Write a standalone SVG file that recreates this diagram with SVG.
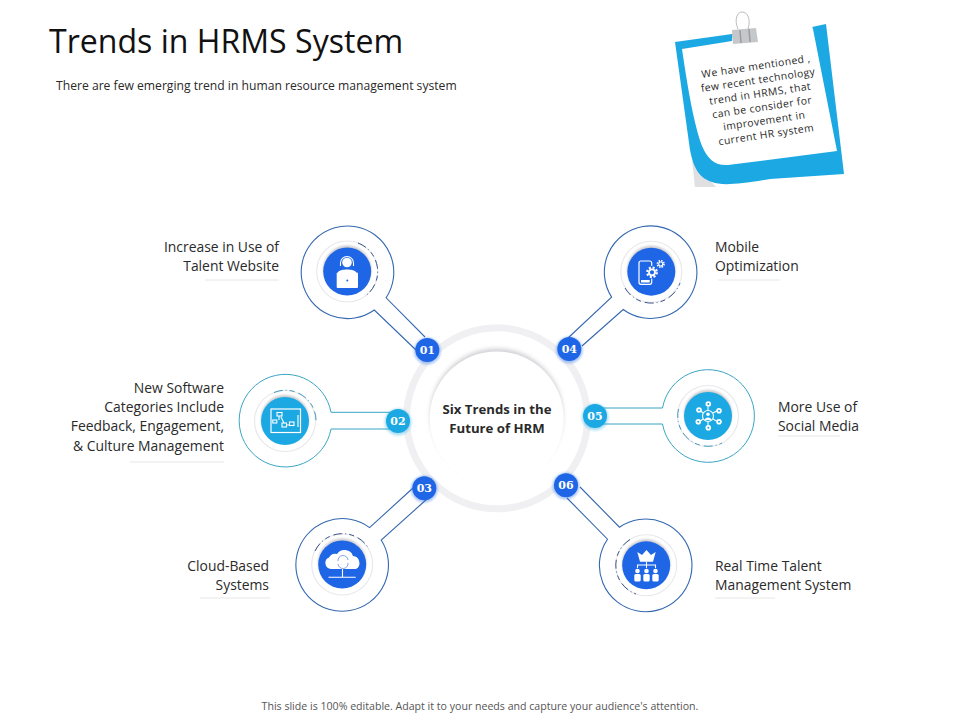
<svg xmlns="http://www.w3.org/2000/svg" width="960" height="720" viewBox="0 0 960 720">
<style>
text{font-family:"Open Sans","Liberation Sans",sans-serif;fill:#2a2a2a}
.lab{font-size:13.9px}
.r{text-anchor:end}
.cen{text-anchor:middle}
.badge{font-family:"DejaVu Serif","Liberation Serif",serif;font-weight:700;font-size:11px;fill:#fff;text-anchor:middle}
.note{font-size:10.4px;text-anchor:middle;letter-spacing:.4px}
.ub{fill:#fff;stroke:#3468b0;stroke-width:1.1}
.ut{fill:#fff;stroke:#38a5c4;stroke-width:1}
.ring{fill:#fff;stroke:#e8e8ec;stroke-width:1.1}
.sh{fill:#c9c9ce}
.bl{fill:#1f66e6}
.cy{fill:#1ca8e2}
.dashb{fill:none;stroke:#24407a;stroke-width:.9;stroke-dasharray:9 3 1 3 5 4}
.dasht{fill:none;stroke:#2a8fb5;stroke-width:.9;stroke-dasharray:9 3 1 3 5 4}
.ul{stroke:#e6e6e6;stroke-width:1}
.w{fill:#fff}
.wl{fill:none;stroke:#fff;stroke-width:1.1}
.gb{fill:#1f66e6;opacity:.35}
.gc{fill:#1ca8e2;opacity:.35}
</style>
<defs>
<filter id="b2" x="-30%" y="-30%" width="160%" height="160%"><feGaussianBlur stdDeviation="2"/></filter>
<filter id="b1" x="-30%" y="-30%" width="160%" height="160%"><feGaussianBlur stdDeviation="1.2"/></filter>
</defs>
<rect width="960" height="720" fill="#fff"/>
<text x="49" y="53" style="font-size:32.1px;fill:#111">Trends in HRMS System</text>
<text x="56" y="90" style="font-size:12.15px">There are few emerging trend in human resource management system</text>

<g id="sticky-note">
<path d="M692 160L695 187L716 187Z" fill="#e0e0e3"/>
<path d="M675 42L732 34L757 31L812 27L826 24L844 174L770 179C740 184 722 186 712 182C700 178 694 170 690 150Z" fill="#1ca8e2"/>
<path d="M682 49L732 41L733 30L812 26L813 29L837 151L728 165C716 166 708 160 702 146C694 124 688 90 682 49Z" fill="#fff"/>
<g id="clip">
<path d="M738 29C734 20 737 12 742 12C748 12 751 20 748 29" fill="none" stroke="#bcbcbf" stroke-width="1"/>
<path d="M732 30L756 28L758 42L733 44Z" fill="#c6c7ca"/>
<path d="M740 30L741 43M749 29L750 42" stroke="#9b9c9f" stroke-width="1.5"/>
</g>
<g transform="translate(761 100) rotate(-8.5)">
<text class="note" y="-30.5">We have mentioned ,</text>
<text class="note" y="-16.7">few recent technology</text>
<text class="note" y="-2.9">trend in HRMS, that</text>
<text class="note" y="10.9">can be consider for</text>
<text class="note" y="24.7">improvement in</text>
<text class="note" y="38.5">current HR system</text>
</g>
</g>

<g id="hub">
<circle cx="497" cy="418.300" r="90.500" fill="#fff" stroke="#f0f0f2" stroke-width="7"/>
<circle cx="496.700" cy="415" r="66.500" fill="#d2d2d6" filter="url(#b2)"/>
<circle cx="496.700" cy="418.500" r="67" fill="#fff"/>
<text class="cen" x="497" y="414" style="font-size:13.2px;font-weight:700">Six Trends in the</text>
<text class="cen" x="497" y="433" style="font-size:13.2px;font-weight:700">Future of HRM</text>
</g>

<g id="connectors">
<path class="ub" d="M425 337L386.100 297.800A46.300 46.300 0 1 0 374.300 310L416 350"/>
<path class="ut" d="M392 412.300L331 412.300A46.300 46.300 0 1 0 331 429L392 429"/>
<path class="ub" d="M413 488L369.600 527.600A46.300 46.300 0 1 0 381.200 540L427 499"/>
<path class="ub" d="M568 338L611.600 297.100A46.300 46.300 0 1 1 623.200 309.500L582 346"/>
<path class="ut" d="M590 408L662.500 408A46.300 46.300 0 1 1 662.500 424L590 424"/>
<path class="ub" d="M580 487L619.500 527.200A46.300 46.300 0 1 1 607.500 539.200L567 498"/>
</g>

<g id="node-01">
<circle class="ring" cx="347.200" cy="271.500" r="30.500"/>
<circle class="sh" cx="347.200" cy="269.500" r="24" filter="url(#b1)"/>
<circle class="bl" cx="347.200" cy="271.500" r="24"/>
<path class="dashb" d="M358 243A30.500 30.500 0 0 1 366 295.500"/>
<circle class="w" cx="347" cy="262.500" r="4.800"/>
<path class="wl" d="M340.500 263A6.500 6.500 0 0 1 353.500 263M340.500 263V266M353.500 263V266"/>
<path class="w" d="M338 272C340 268.500 354 268.500 356 272V276H338Z"/>
<rect class="w" x="336.700" y="272.500" width="21.300" height="15.500" rx="1"/>
<circle class="bl" cx="347.300" cy="280.500" r="1"/>
<circle class="gb" cx="427.300" cy="351" r="13.500" filter="url(#b1)"/>
<circle class="bl" cx="427.300" cy="350" r="12"/>
<text class="badge" x="427.300" y="354">01</text>
<text class="lab r" x="279" y="252">Increase in Use of</text>
<text class="lab r" x="279" y="271">Talent Website</text>
<line class="ul" x1="205" y1="280" x2="279" y2="280"/>
</g>

<g id="node-02">
<circle class="ring" cx="285" cy="421" r="30.500"/>
<circle class="sh" cx="285" cy="419" r="24" filter="url(#b1)"/>
<circle class="cy" cx="285" cy="421" r="24"/>
<path class="dasht" d="M274 392.500A30.500 30.500 0 0 1 316 422"/>
<rect x="271" y="409" width="29.500" height="23.500" fill="none" stroke="#fff" stroke-width="1.200"/>
<path class="wl" d="M298 415V427M279 416V420M281 417L284 423M286 425H290"/>
<rect class="wl" x="277" y="412.500" width="5" height="3.500"/>
<rect class="wl" x="272.800" y="420" width="4" height="3"/>
<rect class="wl" x="282" y="423" width="4.500" height="4"/>
<rect class="wl" x="289.500" y="422" width="4.500" height="3.500"/>
<circle class="gc" cx="398" cy="422" r="13.500" filter="url(#b1)"/>
<circle class="cy" cx="398" cy="421" r="12"/>
<text class="badge" x="398" y="425">02</text>
<text class="lab r" x="224" y="393">New Software</text>
<text class="lab r" x="224" y="412">Categories Include</text>
<text class="lab r" x="224" y="431">Feedback, Engagement,</text>
<text class="lab r" x="224" y="451">&amp; Culture Management</text>
<line class="ul" x1="130" y1="462" x2="224" y2="462"/>
</g>

<g id="node-03">
<circle class="ring" cx="342.200" cy="564.500" r="30.500"/>
<circle class="sh" cx="342.200" cy="562.500" r="24" filter="url(#b1)"/>
<circle class="bl" cx="342.200" cy="564.500" r="24"/>
<path class="dashb" d="M315 551A30.500 30.500 0 0 1 369 549"/>
<path class="w" d="M331 569A6 6 0 0 1 329 557.500A7 7 0 0 1 337 554A9 9 0 0 1 353 556A7 7 0 0 1 356 569Z"/>
<path d="M338 561A5 5 0 0 1 348 560M348 563A5 5 0 0 1 338 564" fill="none" stroke="#7f9fe8" stroke-width="1"/>
<path class="wl" d="M342.500 569V577M328.500 577.300H355.700"/>
<circle class="gb" cx="424.300" cy="489" r="13.500" filter="url(#b1)"/>
<circle class="bl" cx="424.300" cy="488.300" r="12"/>
<text class="badge" x="424.300" y="492.300">03</text>
<text class="lab r" x="269" y="571">Cloud-Based</text>
<text class="lab r" x="269" y="590">Systems</text>
<line class="ul" x1="200" y1="598" x2="270" y2="598"/>
</g>

<g id="node-04">
<circle class="ring" cx="651.300" cy="271.700" r="30.500"/>
<circle class="sh" cx="651.300" cy="269.700" r="24" filter="url(#b1)"/>
<circle class="bl" cx="651.300" cy="271.700" r="24"/>
<path class="dashb" d="M625 288A30.500 30.500 0 0 0 680 283"/>
<rect x="639" y="261" width="12.700" height="23.300" rx="2" fill="none" stroke="#fff" stroke-width="1.200"/>
<rect x="641" y="280" width="8.700" height="2.500" class="w"/>
<circle class="bl" cx="652" cy="272.300" r="6.500"/>
<circle cx="652" cy="272.300" r="4.800" fill="none" stroke="#fff" stroke-width="2.200" stroke-dasharray="2 1.770"/>
<circle cx="652" cy="272.300" r="3" fill="none" stroke="#fff" stroke-width="1.800"/>
<circle cx="660.700" cy="264" r="3.300" fill="none" stroke="#fff" stroke-width="1.600" stroke-dasharray="1.500 1.090"/>
<circle cx="660.700" cy="264" r="2" fill="none" stroke="#fff" stroke-width="1.100"/>
<circle class="gb" cx="569.300" cy="350" r="13.500" filter="url(#b1)"/>
<circle class="bl" cx="569.300" cy="349" r="12"/>
<text class="badge" x="569.300" y="353">04</text>
<text class="lab" x="715" y="252">Mobile</text>
<text class="lab" x="715" y="271">Optimization</text>
<line class="ul" x1="718" y1="280" x2="780" y2="280"/>
</g>

<g id="node-05">
<circle class="ring" cx="708" cy="416" r="30.500"/>
<circle class="sh" cx="708" cy="414" r="24" filter="url(#b1)"/>
<circle class="cy" cx="708" cy="416" r="24"/>
<path class="dasht" d="M678.500 409A30.500 30.500 0 0 0 722 443"/>
<circle cx="708" cy="416" r="5.500" fill="none" stroke="#fff" stroke-width="1.100"/>
<circle class="w" cx="708" cy="414.300" r="1.800"/>
<path class="w" d="M704.500 420C705 416.500 711 416.500 711.500 420Z"/>
<path class="wl" d="M708 410V407M713 413L716.500 411M713 419L716.500 421M708 422V425M703 419L700.500 421M703 413L701 411"/>
<g class="w"><circle cx="708.300" cy="404" r="2.800"/><circle cx="719" cy="410.700" r="2.800"/><circle cx="719" cy="421.700" r="2.800"/><circle cx="708.300" cy="427.700" r="2.800"/><circle cx="698.300" cy="421.700" r="2.800"/><circle cx="699" cy="410" r="2.800"/></g>
<g class="cy"><circle cx="708.300" cy="404" r="1"/><circle cx="719" cy="410.700" r="1"/><circle cx="719" cy="421.700" r="1"/><circle cx="708.300" cy="427.700" r="1"/><circle cx="698.300" cy="421.700" r="1"/><circle cx="699" cy="410" r="1"/></g>
<circle class="gc" cx="595" cy="417" r="13.500" filter="url(#b1)"/>
<circle class="cy" cx="595" cy="416" r="12"/>
<text class="badge" x="595" y="420">05</text>
<text class="lab" x="778" y="412">More Use of</text>
<text class="lab" x="778" y="431">Social Media</text>
<line class="ul" x1="778" y1="436" x2="840" y2="436"/>
</g>

<g id="node-06">
<circle class="ring" cx="646.200" cy="565.300" r="30.500"/>
<circle class="sh" cx="646.200" cy="563.300" r="24" filter="url(#b1)"/>
<circle class="bl" cx="646.200" cy="565.300" r="24"/>
<path class="dashb" d="M630 539.500A30.500 30.500 0 0 0 636 594"/>
<path class="w" d="M637.300 552L642 555L646.500 550L651 555L655.700 552L653 561.700H640Z"/>
<path class="wl" d="M646.500 561.700V565M637.500 568V565H655.500V568M646.500 565V568"/>
<g class="w"><circle cx="637.500" cy="571" r="2.300"/><circle cx="646.500" cy="571" r="2.300"/><circle cx="655.500" cy="571" r="2.300"/>
<rect x="634.300" y="574" width="6.400" height="7.500" rx="1.500"/><rect x="643.300" y="574" width="6.400" height="7.500" rx="1.500"/><rect x="652.300" y="574" width="6.400" height="7.500" rx="1.500"/></g>
<circle class="gb" cx="566" cy="486" r="13.500" filter="url(#b1)"/>
<circle class="bl" cx="566" cy="485.300" r="12"/>
<text class="badge" x="566" y="489.300">06</text>
<text class="lab" x="715" y="571">Real Time Talent</text>
<text class="lab" x="715" y="590">Management System</text>
<line class="ul" x1="715" y1="598" x2="775" y2="598"/>
</g>

<text class="cen" x="480" y="710" style="font-size:10.6px;fill:#555">This slide is 100% editable. Adapt it to your needs and capture your audience's attention.</text>
</svg>
